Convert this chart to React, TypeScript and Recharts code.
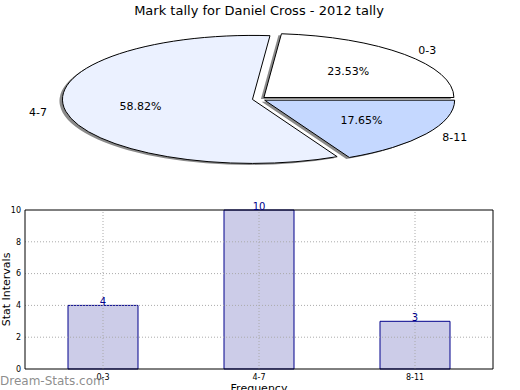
import React from 'react';
import {
  PieChart,
  Pie,
  Cell,
  BarChart,
  Bar,
  XAxis,
  YAxis,
  LabelList,
  Label,
  ReferenceLine,
} from 'recharts';

const categories = ['0-3', '4-7', '8-11'];
const counts = [4, 10, 3];
const yTicks = [0, 2, 4, 6, 8, 10];
const yGrid = [2, 4, 6, 8];

const SLICE_FILLS = ['#ffffff', '#ebf1ff', '#c5d8ff'];
const ASPECT = 64 / 190; // squashed pie, like the source
const EXPLODE = 0.035;
const SHADOW_DX = -3;
const SHADOW_DY = 1.5;

const data = categories.map((name, i) => ({ name, value: counts[i] }));

const rad = (deg: number) => (deg * Math.PI) / 180;

// centre of a wedge after it has been pushed out along its middle angle
const explodedCentre = (cx: number, cy: number, r: number, mid: number) => [
  cx + EXPLODE * r * Math.cos(rad(mid)),
  cy - EXPLODE * r * ASPECT * Math.sin(rad(mid)),
];

const wedgePath = (cx: number, cy: number, r: number, a0: number, a1: number) => {
  const rx = r;
  const ry = r * ASPECT;
  const x0 = cx + rx * Math.cos(rad(a0));
  const y0 = cy - ry * Math.sin(rad(a0));
  const x1 = cx + rx * Math.cos(rad(a1));
  const y1 = cy - ry * Math.sin(rad(a1));
  const large = Math.abs(a1 - a0) > 180 ? 1 : 0;
  const sweep = a1 > a0 ? 0 : 1;
  return `M${cx},${cy} L${x0},${y0} A${rx},${ry} 0 ${large} ${sweep} ${x1},${y1} Z`;
};

const Wedge = (props: any) => {
  const { cx, cy, outerRadius, startAngle, endAngle, fill } = props;
  const [ox, oy] = explodedCentre(cx, cy, outerRadius, (startAngle + endAngle) / 2);
  return (
    <path
      d={wedgePath(ox, oy, outerRadius, startAngle, endAngle)}
      fill={fill}
      stroke="#000"
      strokeWidth={1}
      strokeLinejoin="miter"
    />
  );
};

const WedgeShadow = (props: any) => {
  const { cx, cy, outerRadius, startAngle, endAngle } = props;
  const [ox, oy] = explodedCentre(cx, cy, outerRadius, (startAngle + endAngle) / 2);
  return (
    <path
      d={wedgePath(ox + SHADOW_DX, oy + SHADOW_DY, outerRadius, startAngle, endAngle)}
      fill="#8a8a8a"
      stroke="none"
    />
  );
};

const renderPieLabel = (props: any) => {
  const { cx, cy, outerRadius, midAngle, percent, name } = props;
  const [ox, oy] = explodedCentre(cx, cy, outerRadius, midAngle);
  const c = Math.cos(rad(midAngle));
  const s = Math.sin(rad(midAngle));
  const rx = outerRadius;
  const ry = outerRadius * ASPECT;
  return (
    <g>
      <text
        x={ox + 0.6 * rx * c}
        y={oy - 0.6 * ry * s}
        textAnchor="middle"
        dominantBaseline="central"
        fontSize={11}
        fill="#000"
      >
        {(percent * 100).toFixed(2)}%
      </text>
      <text
        x={ox + 1.1 * rx * c}
        y={oy - 1.1 * ry * s}
        textAnchor={c > 0 ? 'start' : 'end'}
        dominantBaseline="central"
        fontSize={11}
        fill="#000"
      >
        {name}
      </text>
    </g>
  );
};

const BarValue = (props: any) => {
  const { x, y, width, value } = props;
  return (
    <text x={x + width / 2} y={y - 0.5} textAnchor="middle" fontSize={10} fill="#00008b">
      {value}
    </text>
  );
};

export default function App() {
  return (
    <div
      style={{
        position: 'absolute',
        left: 0,
        top: 0,
        width: 520,
        height: 390,
        overflow: 'hidden',
        background: '#fff',
        fontFamily: '"DejaVu Sans", sans-serif',
      }}
    >
      <div
        style={{
          position: 'absolute',
          left: 0,
          top: 3,
          width: 518,
          textAlign: 'center',
          fontSize: 13,
          lineHeight: '15px',
          color: '#000',
        }}
      >
        Mark tally for Daniel Cross - 2012 tally
      </div>

      <div style={{ position: 'absolute', left: 0, top: 0 }}>
        <PieChart width={520} height={185} margin={{ top: 0, right: 0, bottom: 0, left: 0 }}>
          <Pie
            data={data}
            dataKey="value"
            nameKey="name"
            cx={259}
            cy={99}
            outerRadius={190}
            startAngle={0}
            endAngle={360}
            shape={WedgeShadow}
            inactiveShape={WedgeShadow}
            activeShape={WedgeShadow}
            label={false}
            labelLine={false}
            isAnimationActive={false}
          />
          <Pie
            data={data}
            dataKey="value"
            nameKey="name"
            cx={259}
            cy={99}
            outerRadius={190}
            startAngle={0}
            endAngle={360}
            shape={Wedge}
            inactiveShape={Wedge}
            activeShape={Wedge}
            label={renderPieLabel}
            labelLine={false}
            isAnimationActive={false}
          >
            {data.map((entry, i) => (
              <Cell key={`slice-${entry.name}`} fill={SLICE_FILLS[i % SLICE_FILLS.length]} />
            ))}
          </Pie>
        </PieChart>
      </div>

      <div style={{ position: 'absolute', left: 0, top: 190 }}>
        <BarChart
          width={520}
          height={200}
          data={data}
          margin={{ top: 19, right: 26, bottom: 0, left: 0 }}
          barSize={70}
        >
          <XAxis
            dataKey="name"
            height={21}
            interval={0}
            tickLine={false}
            tickSize={2}
            tickMargin={3}
            axisLine={{ stroke: '#000', strokeWidth: 1 }}
            tick={{ fontSize: 8, fill: '#000' }}
          >
            <Label
              content={({ viewBox }: any) => (
                <text
                  x={viewBox.x + viewBox.width / 2}
                  y={viewBox.y + viewBox.height + 2}
                  textAnchor="middle"
                  fontSize={11}
                  fill="#000"
                >
                  Frequency
                </text>
              )}
            />
          </XAxis>
          <XAxis
            xAxisId="top"
            orientation="top"
            dataKey="name"
            height={1}
            tick={false}
            tickLine={false}
            axisLine={{ stroke: '#000', strokeWidth: 1 }}
          />
          <YAxis
            domain={[0, 10]}
            ticks={yTicks}
            width={25}
            tickLine={false}
            tickSize={2}
            tickMargin={2}
            axisLine={{ stroke: '#000', strokeWidth: 1 }}
            tick={{ fontSize: 8, fill: '#000' }}
          >
            <Label
              content={({ viewBox }: any) => {
                const x = viewBox.x + 9.5;
                const y = viewBox.y + viewBox.height / 2;
                return (
                  <text
                    x={x}
                    y={y}
                    transform={`rotate(-90 ${x} ${y})`}
                    textAnchor="middle"
                    fontSize={11}
                    fill="#000"
                  >
                    Stat Intervals
                  </text>
                );
              }}
            />
          </YAxis>
          <YAxis
            yAxisId="right"
            orientation="right"
            domain={[0, 10]}
            width={1}
            tick={false}
            tickLine={false}
            axisLine={{ stroke: '#000', strokeWidth: 1 }}
          />
          {yGrid.map((v) => (
            <ReferenceLine
              key={`gy-${v}`}
              y={v}
              stroke="#aaaaaa"
              strokeDasharray="1 2"
              strokeWidth={1}
            />
          ))}
          {categories.map((c) => (
            <ReferenceLine
              key={`gx-${c}`}
              x={c}
              stroke="#aaaaaa"
              strokeDasharray="1 2"
              strokeWidth={1}
            />
          ))}
          <Bar
            dataKey="value"
            fill="#00008b"
            fillOpacity={0.2}
            stroke="#00008b"
            strokeWidth={1}
            isAnimationActive={false}
          >
            <LabelList dataKey="value" content={BarValue} />
          </Bar>
        </BarChart>
      </div>

      <div
        style={{
          position: 'absolute',
          left: 0,
          top: 373.5,
          fontSize: 12,
          lineHeight: '14px',
          color: 'rgba(120,120,120,0.85)',
          whiteSpace: 'nowrap',
        }}
      >
        Dream-Stats.com
      </div>
    </div>
  );
}
